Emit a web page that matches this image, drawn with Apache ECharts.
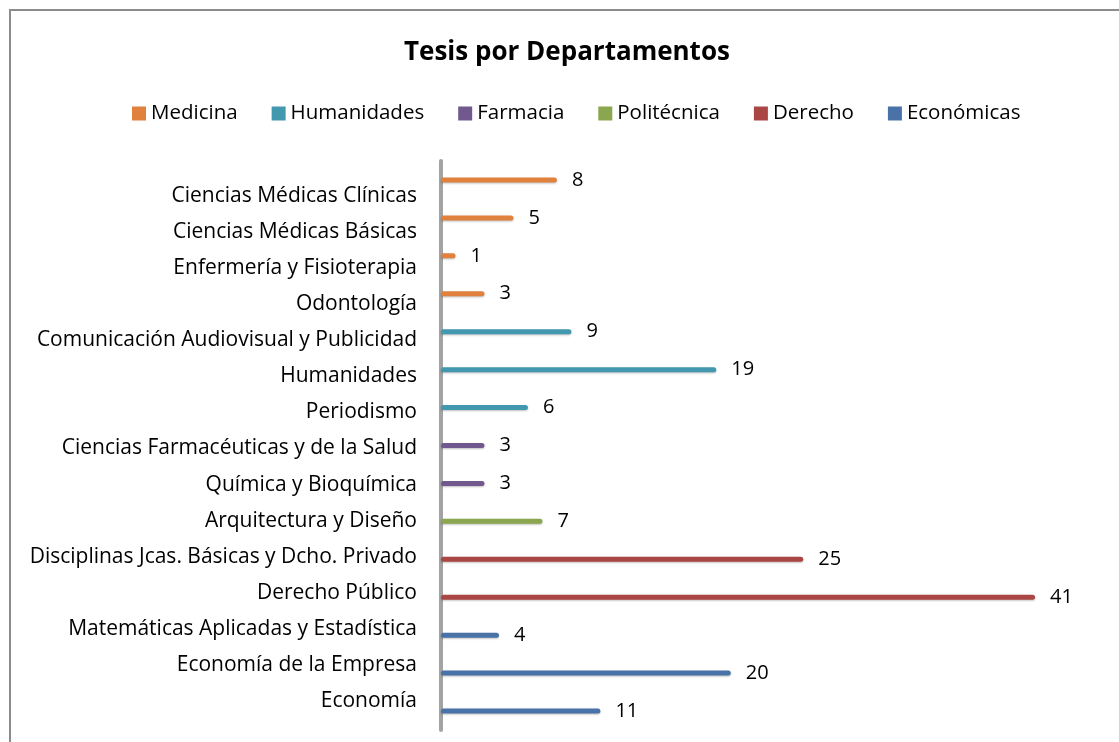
<!DOCTYPE html>
<html>
<head>
<meta charset="utf-8">
<script src="https://cdn.jsdelivr.net/npm/echarts@6/dist/echarts.min.js"></script>
<style>html,body{margin:0;padding:0;background:#fff}#c{width:1119px;height:742px}</style>
</head>
<body>
<div id="c"></div>
<script>
const categories = [
  'Ciencias Médicas Clínicas',
  'Ciencias Médicas Básicas',
  'Enfermería y Fisioterapia',
  'Odontología',
  'Comunicación Audiovisual y Publicidad',
  'Humanidades',
  'Periodismo',
  'Ciencias Farmacéuticas y de la Salud',
  'Química y Bioquímica',
  'Arquitectura y Diseño',
  'Disciplinas Jcas. Básicas y Dcho. Privado',
  'Derecho Público',
  'Matemáticas Aplicadas y Estadística',
  'Economía de la Empresa',
  'Economía'
];
const seriesNames = ['Medicina', 'Humanidades', 'Farmacia', 'Politécnica', 'Derecho', 'Económicas'];
const medicina    = [8, 5, 1, 3, null, null, null, null, null, null, null, null, null, null, null];
const humanidades = [null, null, null, null, 9, 19, 6, null, null, null, null, null, null, null, null];
const farmacia    = [null, null, null, null, null, null, null, 3, 3, null, null, null, null, null, null];
const politecnica = [null, null, null, null, null, null, null, null, null, 7, null, null, null, null, null];
const derecho     = [null, null, null, null, null, null, null, null, null, null, 25, 41, null, null, null];
const economicas  = [null, null, null, null, null, null, null, null, null, null, null, null, 4, 20, 11];
const seriesData = [medicina, humanidades, farmacia, politecnica, derecho, economicas];
const colors = ['#E0813D', '#4298AF', '#71588F', '#8AA64F', '#AA4643', '#4872A8'];

const FONT = 'Open Sans';
const chart = echarts.init(document.getElementById('c'), null, {renderer: 'canvas'});

const series = seriesNames.map((name, i) => ({
  name: name,
  type: 'bar',
  stack: 'all',
  xAxisIndex: 1,
  yAxisIndex: 1,
  barWidth: 5,
  data: seriesData[i],
  itemStyle: {
    color: colors[i],
    borderRadius: 2.5,
    shadowColor: 'rgba(0,0,0,0.25)',
    shadowBlur: 2,
    shadowOffsetY: 1
  },
  label: {
    show: true,
    position: 'right',
    distance: 15,
    color: '#000',
    fontFamily: FONT,
    fontSize: 20,
    formatter: p => (p.value == null ? '' : p.value)
  }
}));

chart.setOption({
  animation: false,
  color: colors,
  title: {
    text: 'Tesis por Departamentos',
    left: 399,
    top: 35,
    textStyle: {fontFamily: FONT, fontWeight: 'bold', fontSize: 26, color: '#000'}
  },
  legend: {
    data: seriesNames,
    left: 127,
    top: 98,
    icon: 'rect',
    itemWidth: 14,
    itemHeight: 14,
    itemGap: 34,
    textStyle: {fontFamily: FONT, fontSize: 20.5, color: '#000'}
  },
  grid: [
    {left: 441, right: 26, top: 178, bottom: 23},
    {left: 441, right: 26, top: 161, bottom: 12}
  ],
  xAxis: [
    {gridIndex: 0, type: 'value', min: 0, max: 45, show: false},
    {gridIndex: 1, type: 'value', min: 0, max: 45, show: false}
  ],
  yAxis: [
    {
      gridIndex: 0, type: 'category', data: categories, inverse: true,
      axisLine: {show: false}, axisTick: {show: false}, splitLine: {show: false},
      axisLabel: {fontFamily: FONT, fontSize: 21, color: '#000', margin: 24, interval: 0}
    },
    {
      gridIndex: 1, type: 'category', data: categories, inverse: true,
      axisLine: {show: true, lineStyle: {color: '#A3A3A3', width: 4}},
      axisTick: {show: false}, splitLine: {show: false},
      axisLabel: {show: false}
    }
  ],
  graphic: [
    {type: 'line', shape: {x1: 9, y1: 10, x2: 1119, y2: 10}, style: {stroke: '#8C8C8C', lineWidth: 2}},
    {type: 'line', shape: {x1: 10, y1: 9, x2: 10, y2: 742}, style: {stroke: '#8C8C8C', lineWidth: 2}}
  ],
  series: series
});
</script>
</body>
</html>
